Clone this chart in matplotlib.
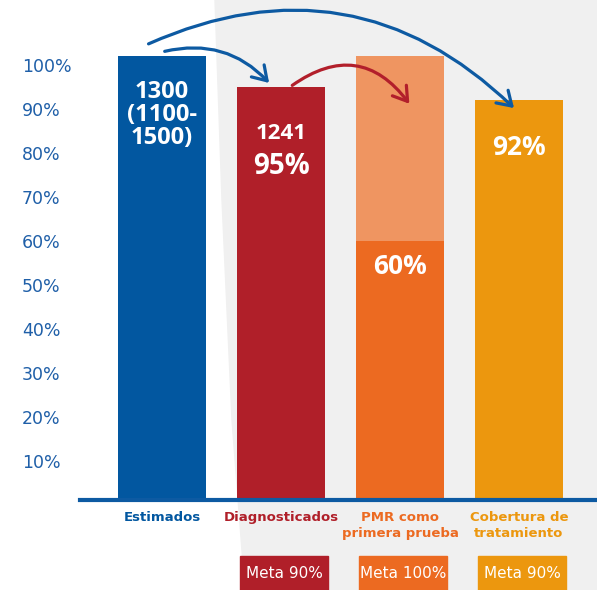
import matplotlib.pyplot as plt
from matplotlib.patches import FancyArrowPatch, Rectangle, Polygon

# datos
categorias = ["Estimados", "Diagnosticados", "PMR como\nprimera prueba", "Cobertura de\ntratamiento"]
valores = [102, 95, 60, 92]
meta_pmr = 102
textos = ["1300\n(1100-\n1500)", "1241", "60%", "92%"]
textos_extra = [None, "95%", None, None]
metas = [None, "Meta 90%", "Meta 100%", "Meta 90%"]
marcas_y = [10, 20, 30, 40, 50, 60, 70, 80, 90, 100]
etiquetas_y = ["10%", "20%", "30%", "40%", "50%", "60%", "70%", "80%", "90%", "100%"]

colores = ["#0257a0", "#b01f29", "#ec6a21", "#ec970e"]
color_meta_pmr = "#ef9561"
azul = "#0d5aa2"
azul_texto = "#1f5fa8"

W, H = 597, 590
fig = plt.figure(figsize=(W / 100, H / 100), dpi=100)
fig.patch.set_facecolor("white")

# fondo gris claro
fondo = [(215, 0), (597, 0), (597, 590), (245, 590), (232, 420), (222, 200)]
fig.add_artist(Polygon([(x / W, 1 - y / H) for x, y in fondo], closed=True,
                       transform=fig.transFigure, color="#f0f0f0", zorder=-5))

ax = fig.add_axes([80 / W, (H - 500) / H, 517 / W, 500 / H])
ax.set_facecolor("none")

x = list(range(len(categorias)))
ancho = 0.74

ax.bar(2, meta_pmr, width=ancho, color=color_meta_pmr, zorder=2)
ax.bar(x, valores, width=ancho, color=colores, zorder=3)

ax.set_xlim(-82 / 119, 435 / 119)
ax.set_ylim(5 / 4.4, 505 / 4.4)

# textos dentro de las barras
desplaz = [-59, -47, -25, -47]
tam = [17, 16, 19, 19]
for i in x:
    ax.annotate(textos[i], xy=(i, valores[i]), xytext=(0, desplaz[i]), textcoords="offset pixels",
                ha="center", va="center", color="white", fontsize=tam[i], fontweight="bold",
                family="Open Sans", linespacing=0.95, zorder=5)
    if textos_extra[i]:
        ax.annotate(textos_extra[i], xy=(i, valores[i]), xytext=(0, -80), textcoords="offset pixels",
                    ha="center", va="center", color="white", fontsize=20, fontweight="bold",
                    family="Open Sans", zorder=5)

# ejes
for s in ["left", "right", "top"]:
    ax.spines[s].set_visible(False)
ax.spines["bottom"].set_color(azul)
ax.spines["bottom"].set_linewidth(3)
ax.spines["bottom"].set_zorder(6)

ax.set_yticks(marcas_y)
ax.set_yticklabels(etiquetas_y, fontsize=12.5, color=azul_texto, ha="left")
ax.tick_params(axis="y", length=0, pad=58 * 0.72)

ax.set_xticks(x)
ax.set_xticklabels(categorias, fontsize=9.5, fontweight="bold", linespacing=1.25)
for lab, c in zip(ax.get_xticklabels(), colores):
    lab.set_color(c)
ax.tick_params(axis="x", length=0, pad=8)

# cajas de meta
for i in x:
    if metas[i]:
        ax.add_patch(Rectangle((i - ancho / 2 + 0.025, -19.6), ancho, 7.9, color=colores[i],
                               clip_on=False, zorder=4))
        ax.text(i + 0.025, -15.5, metas[i], ha="center", va="center", color="white",
                fontsize=11, clip_on=False, zorder=5)

# flechas
def flecha(p1, p2, rad, color):
    a = FancyArrowPatch(p1, p2, connectionstyle=f"arc3,rad={rad}",
                        arrowstyle="->,head_length=0.7,head_width=0.45", mutation_scale=14,
                        color=color, lw=2.3, zorder=7, clip_on=False)
    ax.add_patch(a)

def d(px, py):
    return ((px - 162) / 119, (505 - py) / 4.4)

flecha(d(146, 45), d(516, 110), -0.34, azul)
flecha(d(162, 52), d(271, 85), -0.3, azul)
flecha(d(290, 87), d(411, 106), -0.5, "#b21f2b")

fig.savefig("out.png", dpi=100)
